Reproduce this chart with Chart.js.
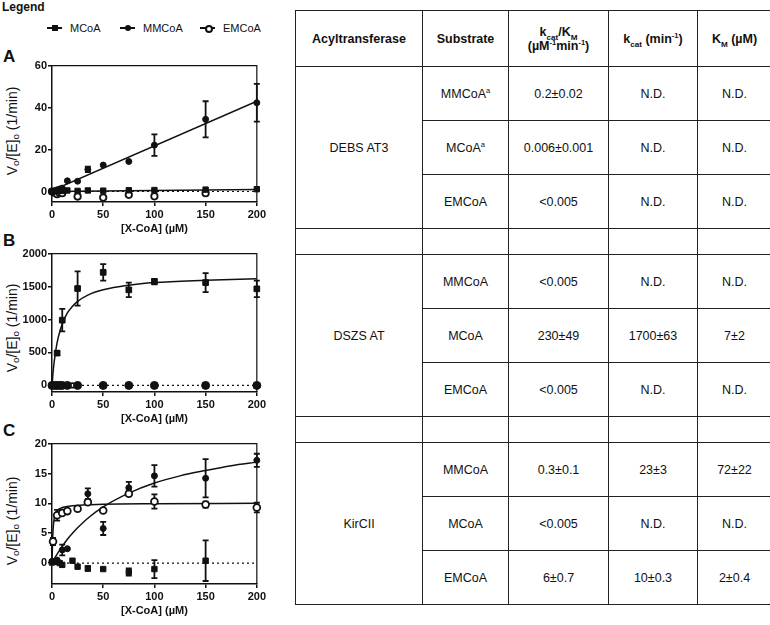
<!DOCTYPE html>
<html>
<head>
<meta charset="utf-8">
<script src="https://cdn.jsdelivr.net/npm/chart.js@4.4.1/dist/chart.umd.min.js"></script>
<style>
  body { margin: 0; width: 770px; height: 625px; background: #fff; position: relative; overflow: hidden;
         font-family: "Liberation Sans", Arial, sans-serif; color: #111; }
  canvas.panel { position: absolute; left: 0; }
  .letter { position: absolute; left: 3px; font-weight: bold; font-size: 17px; line-height: 17px; }
  .ytitle { position: absolute; left: 12px; font-size: 14px; white-space: nowrap; line-height: 16px;
            transform: translate(-50%, -50%) rotate(-90deg); }
  .ytitle sub { font-size: 70%; vertical-align: -2px; line-height: 0; }
  #legTitle { position: absolute; left: 2px; top: 0; font-weight: bold; font-size: 12px; }
  .leg { position: absolute; top: 22px; height: 12px; font-size: 11px; line-height: 12px; white-space: nowrap; }
  .mk { position: relative; display: inline-block; width: 15px; height: 12px; margin-right: 8px; vertical-align: top; }
  .mk::before { content: ''; position: absolute; left: 0; right: 0; top: 5px; border-top: 2px solid #111; }
  .mk::after { content: ''; position: absolute; left: 4.5px; top: 3px; width: 6px; height: 6px; background: #111; }
  .mk.circ::after { border-radius: 50%; }
  .mk.open::after { border-radius: 50%; background: #fff; border: 2px solid #111; width: 4px; height: 4px; }
  #kin { position: absolute; left: 295px; top: 10px; border-collapse: collapse; table-layout: fixed;
         width: 476px; font-size: 12.5px; }
  #kin td, #kin th { border: 1.5px solid #222; text-align: center; vertical-align: middle; padding: 0; }
  #kin th { font-weight: bold; line-height: 14px; }
  #kin sub { font-size: 65%; line-height: 0; }
  #kin sup { font-size: 60%; line-height: 0; }
  #kin tr.hd { height: 56px; }
  #kin tr.row { height: 54px; }
  #kin tr.sp { height: 26px; }
</style>
</head>
<body>
<div id="legTitle">Legend</div>
<div class="leg" style="left:47px"><span class="mk"></span>MCoA</div>
<div class="leg" style="left:120px"><span class="mk circ"></span>MMCoA</div>
<div class="leg" style="left:200px"><span class="mk open"></span>EMCoA</div>

<div class="letter" style="top:48px">A</div>
<div class="letter" style="top:232px">B</div>
<div class="letter" style="top:422px">C</div>

<div class="ytitle" style="top:131px">V<sub>o</sub>/[E]<sub>o</sub> (1/min)</div>
<div class="ytitle" style="top:328px">V<sub>o</sub>/[E]<sub>o</sub> (1/min)</div>
<div class="ytitle" style="top:521px">V<sub>o</sub>/[E]<sub>o</sub> (1/min)</div>

<canvas id="chartA" class="panel" width="268" height="178" style="top:58px"></canvas>
<canvas id="chartB" class="panel" width="268" height="180" style="top:246px"></canvas>
<canvas id="chartC" class="panel" width="268" height="182" style="top:436px"></canvas>

<table id="kin"></table>

<script>
const FONT = '"Liberation Sans", Arial, sans-serif';
const xTicks = [0, 50, 100, 150, 200];
const zeroX = [0, 200];
const zeroY = [0, 0];

// Panel A (DEBS AT3)
const aX = [0, 2.5, 5, 7.5, 10, 15, 25, 35, 50, 75, 100, 150, 200];
const aMcoaY = [0, 0.2, 0.1, 0.4, 0.3, 0.5, 0.3, 0.5, 0.4, 0.6, 0.7, 0.9, 1.1];
const aMmcoaY = [0, 0.4, 0.8, 1.2, 1.6, 5.1, 4.9, 10.5, 12.6, 14.3, 22.1, 34.4, 42.3];
const aMmcoaErr = [0, 0, 0, 0, 0, 0, 0, 1.3, 0, 0, 5.1, 8.6, 9.0];
const aEmcoaX = [0, 2.5, 5, 7.5, 10, 25, 50, 75, 100, 150];
const aEmcoaY = [0, -0.6, -1.3, -0.7, -0.8, -2.4, -2.9, -1.6, -2.3, -0.8];
const aFitMmcoaX = [0, 200];
const aFitMmcoaY = [0.4, 43];
const aFitMcoaX = [0, 200];
const aFitMcoaY = [0, 1.0];
const aYTicks = [0, 20, 40, 60];

// Panel B (DSZS AT)
const bMcoaX = [0, 5, 10, 25, 50, 75, 100, 150, 200];
const bMcoaY = [0, 490, 990, 1470, 1715, 1450, 1575, 1560, 1465];
const bMcoaErr = [0, 30, 170, 260, 125, 110, 40, 145, 125];
const bMmcoaX = [0, 2.5, 5, 7.5, 10, 15, 25, 50, 75, 100, 150, 200];
const bMmcoaY = [0, 0, 0, 0, 0, 0, 0, 0, 0, 0, 0, 0];
const bEmcoaX = [0, 5, 10, 20, 25];
const bEmcoaY = [0, 0, 0, 0, 0];
const bFitX = [0, 1, 2, 3.5, 5, 7.5, 10, 15, 20, 25, 35, 50, 75, 100, 150, 200];
const bFitY = [0, 190, 340, 510, 650, 810, 930, 1100, 1200, 1275, 1370, 1450, 1520, 1560, 1595, 1620];
const bYTicks = [0, 500, 1000, 1500, 2000];

// Panel C (KirCII)
const cMcoaX = [0, 2.5, 5, 7.5, 10, 20, 25, 35, 50, 75, 100, 150];
const cMcoaY = [0.1, 0.3, 0.2, 0.0, -0.3, 0.4, -0.6, -0.9, -1.0, -1.5, -1.0, 0.4];
const cMcoaErr = [0, 0, 0, 0, 0, 0, 0, 0.4, 0, 0.6, 1.5, 3.4];
const cMmcoaX = [0, 5, 10, 15, 35, 50, 75, 100, 150, 200];
const cMmcoaY = [0.3, 0.5, 2.2, 2.4, 11.6, 5.8, 12.6, 14.6, 14.2, 17.2];
const cMmcoaErr = [0, 0, 0.9, 0, 0.9, 1.1, 1.0, 1.8, 3.2, 1.1];
const cEmcoaX = [1, 5, 10, 15, 25, 35, 50, 75, 100, 150, 200];
const cEmcoaY = [3.6, 8.0, 8.4, 8.7, 9.1, 10.2, 8.8, 11.6, 10.3, 9.8, 9.3];
const cEmcoaErr = [0.6, 0.9, 0.3, 0.2, 0.3, 0.3, 0.3, 0.4, 1.2, 0.5, 0.8];
const cFitMmX = [0, 2.5, 5, 10, 15, 20, 25, 35, 50, 75, 100, 125, 150, 175, 200];
const cFitMmY = [0, 0.8, 1.5, 2.8, 4.0, 5.0, 5.9, 7.5, 9.4, 11.7, 13.4, 14.6, 15.5, 16.3, 16.9];
const cFitEmX = [0, 0.5, 1, 2, 3, 5, 10, 20, 50, 100, 200];
const cFitEmY = [0, 3.3, 5.4, 7.3, 8.1, 8.8, 9.3, 9.6, 9.85, 9.95, 10];
const cYTicks = [0, 5, 10, 15, 20];

// Table
const tblHead = ['Acyltransferase', 'Substrate', 'k<sub>cat</sub>/K<sub>M</sub><br>(µM<sup>-1</sup>min<sup>-1</sup>)',
                 'k<sub>cat</sub> (min<sup>-1</sup>)', 'K<sub>M</sub> (µM)'];
const enzymes = ['DEBS AT3', 'DSZS AT', 'KirCII'];
const substrates = [['MMCoA<sup>a</sup>', 'MCoA<sup>a</sup>', 'EMCoA'], ['MMCoA', 'MCoA', 'EMCoA'], ['MMCoA', 'MCoA', 'EMCoA']];
const kcatKm = [['0.2±0.02', '0.006±0.001', '<0.005'], ['<0.005', '230±49', '<0.005'], ['0.3±0.1', '<0.005', '6±0.7']];
const kcat = [['N.D.', 'N.D.', 'N.D.'], ['N.D.', '1700±63', 'N.D.'], ['23±3', 'N.D.', '10±0.3']];
const km = [['N.D.', 'N.D.', 'N.D.'], ['N.D.', '7±2', 'N.D.'], ['72±22', 'N.D.', '2±0.4']];

function esc(s) { return s.replace(/</g, '&lt;'); }
let html = '<colgroup><col style="width:127px"><col style="width:86px"><col style="width:100px"><col style="width:89px"><col style="width:74px"></colgroup>';
html += '<tr class="hd">' + tblHead.map(h => `<th>${h}</th>`).join('') + '</tr>';
enzymes.forEach((enz, g) => {
  if (g > 0) html += '<tr class="sp"><td></td><td></td><td></td><td></td><td></td></tr>';
  for (let r = 0; r < 3; r++) {
    html += '<tr class="row">';
    if (r === 0) html += `<td rowspan="3">${enz}</td>`;
    html += `<td>${substrates[g][r]}</td><td>${esc(kcatKm[g][r])}</td><td>${kcat[g][r]}</td><td>${km[g][r]}</td></tr>`;
  }
});
document.getElementById('kin').innerHTML = html;

// Chart helpers
function pts(xs, ys, es) {
  return xs.map((x, i) => ({ x: x, y: ys[i], e: es ? es[i] : 0 }));
}

const errorBars = {
  id: 'errorBars',
  beforeDatasetsDraw(chart) {
    const { ctx, chartArea, scales } = chart;
    ctx.save();
    ctx.beginPath();
    ctx.rect(chartArea.left - 8, chartArea.top - 8, chartArea.width + 16, chartArea.height + 8);
    ctx.clip();
    ctx.strokeStyle = '#111';
    ctx.lineWidth = 1.8;
    chart.data.datasets.forEach(ds => {
      if (!ds.errBars) return;
      ds.data.forEach(p => {
        if (!p.e) return;
        const px = scales.x.getPixelForValue(p.x);
        const top = scales.y.getPixelForValue(p.y + p.e);
        const bot = scales.y.getPixelForValue(p.y - p.e);
        ctx.beginPath();
        ctx.moveTo(px, top); ctx.lineTo(px, bot);
        ctx.moveTo(px - 3, top); ctx.lineTo(px + 3, top);
        ctx.moveTo(px - 3, bot); ctx.lineTo(px + 3, bot);
        ctx.stroke();
      });
    });
    ctx.restore();
  }
};

const frame = {
  id: 'frame',
  beforeDatasetsDraw(chart) {
    const { ctx, chartArea: { left, top, right, bottom } } = chart;
    ctx.save();
    ctx.strokeStyle = '#111';
    ctx.lineWidth = 1.2;
    ctx.beginPath();
    ctx.moveTo(left, top); ctx.lineTo(right, top); ctx.lineTo(right, bottom);
    ctx.stroke();
    ctx.restore();
  }
};

function squares(data, r) {
  return { type: 'scatter', data: data, errBars: true, pointStyle: 'rect', pointRadius: r, pointHoverRadius: r,
           backgroundColor: '#111', borderColor: '#111', borderWidth: 1, clip: false, order: 1 };
}
function dots(data, r) {
  return { type: 'scatter', data: data, errBars: true, pointStyle: 'circle', pointRadius: r, pointHoverRadius: r,
           backgroundColor: '#111', borderColor: '#111', borderWidth: 1, clip: false, order: 1 };
}
function rings(data, r) {
  return { type: 'scatter', data: data, errBars: true, pointStyle: 'circle', pointRadius: r, pointHoverRadius: r,
           backgroundColor: '#fff', borderColor: '#111', borderWidth: 1.8, clip: false, order: 2 };
}
function fit(data, dashed) {
  return { type: 'line', data: data, showLine: true, pointRadius: 0, borderColor: '#111',
           borderWidth: dashed ? 1.2 : 1.5, borderDash: dashed ? [2, 3] : [], fill: false,
           cubicInterpolationMode: 'monotone', order: 5 };
}

function makePanel(id, datasets, yMin, yMax, yTicks) {
  new Chart(document.getElementById(id), {
    type: 'scatter',
    data: { datasets: datasets },
    options: {
      responsive: false,
      animation: false,
      devicePixelRatio: 1,
      layout: { padding: { top: 7, right: 10, bottom: 0, left: 0 } },
      plugins: { legend: { display: false }, tooltip: { enabled: false } },
      scales: {
        x: {
          type: 'linear', min: 0, max: 200,
          afterBuildTicks: s => { s.ticks = xTicks.map(v => ({ value: v })); },
          afterFit: s => { s.height = 34; },
          border: { color: '#111', width: 1.5 },
          grid: { drawOnChartArea: false, tickLength: 4, color: '#111', lineWidth: 1.5 },
          ticks: { autoSkip: false, maxRotation: 0, padding: 2, color: '#111',
                   font: { family: FONT, size: 11, weight: 'bold' }, callback: v => String(v) },
          title: { display: true, text: '[X-CoA] (µM)', color: '#111', padding: 0,
                   font: { family: FONT, size: 11, weight: 'bold' } }
        },
        y: {
          type: 'linear', min: yMin, max: yMax,
          afterBuildTicks: s => { s.ticks = yTicks.map(v => ({ value: v })); },
          afterFit: s => { s.width = 52; },
          border: { color: '#111', width: 1.5 },
          grid: { drawOnChartArea: false, tickLength: 4, color: '#111', lineWidth: 1.5 },
          ticks: { autoSkip: false, padding: 1, color: '#111',
                   font: { family: FONT, size: 11, weight: 'bold' }, callback: v => String(v) }
        }
      }
    },
    plugins: [frame, errorBars]
  });
}

makePanel('chartA', [
  squares(pts(aX, aMcoaY), 3.8),
  dots(pts(aX, aMmcoaY, aMmcoaErr), 3),
  rings(pts(aEmcoaX, aEmcoaY), 3.2),
  fit(pts(aFitMmcoaX, aFitMmcoaY)),
  fit(pts(aFitMcoaX, aFitMcoaY)),
  fit(pts(zeroX, zeroY), true)
], -5, 60, aYTicks);

makePanel('chartB', [
  squares(pts(bMcoaX, bMcoaY, bMcoaErr), 4),
  dots(pts(bMmcoaX, bMmcoaY), 4),
  rings(pts(bEmcoaX, bEmcoaY), 2.2),
  fit(pts(bFitX, bFitY)),
  fit(pts(zeroX, zeroY), true)
], -100, 2000, bYTicks);

makePanel('chartC', [
  squares(pts(cMcoaX, cMcoaY, cMcoaErr), 3.8),
  dots(pts(cMmcoaX, cMmcoaY, cMmcoaErr), 3),
  rings(pts(cEmcoaX, cEmcoaY, cEmcoaErr), 3.4),
  fit(pts(cFitMmX, cFitMmY)),
  fit(pts(cFitEmX, cFitEmY)),
  fit(pts(zeroX, zeroY), true)
], -3.5, 20, cYTicks);
</script>
</body>
</html>
